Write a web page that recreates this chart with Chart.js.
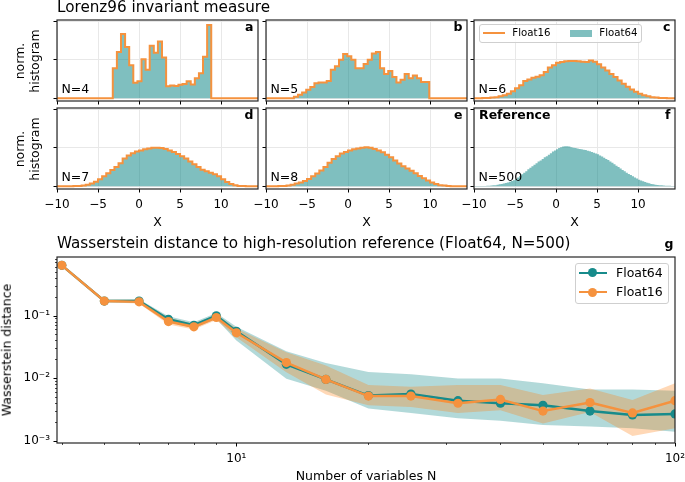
<!DOCTYPE html>
<html>
<head>
<meta charset="utf-8">
<script src="https://cdn.jsdelivr.net/npm/chart.js@4/dist/chart.umd.min.js"></script>
<style>
html,body{margin:0;padding:0;background:#fff;}
#root{position:relative;width:685px;height:482px;overflow:hidden;font-family:'DejaVu Sans',sans-serif;color:#000;background:#fff;}
#root canvas{position:absolute;}
.txt{position:absolute;white-space:nowrap;line-height:1;z-index:6;}
.legend{position:absolute;box-sizing:border-box;border:1px solid #cfcfcf;border-radius:3px;background:rgba(255,255,255,0.85);z-index:5;}
.lg{position:absolute;}
</style>
</head>
<body>
<div id="root"></div>
<script>
// ---------------- data ----------------
const panelLetters = ['a', 'b', 'c', 'd', 'e', 'f'];
const panelN = [4, 5, 6, 7, 8, 500];
const histStart = [-3.2, -6.6, -10, -10, -10, -10];
const histBinWidth = [0.5, 0.5, 0.5, 0.5, 0.5, 0.25];

const histN4 = [0.078,0.120,0.167,0.133,0.086,0.040,0.044,0.101,0.074,0.136,0.118,0.147,
                0.106,0.031,0.033,0.032,0.035,0.037,0.044,0.036,0.052,0.065,0.108,0.190];
const histN5 = [0.004,0.009,0.015,0.022,0.029,0.039,0.041,0.041,0.045,0.074,0.083,0.100,
                0.115,0.109,0.100,0.078,0.078,0.089,0.100,0.116,0.120,0.078,0.063,0.071,
                0.055,0.041,0.048,0.063,0.052,0.059,0.052,0.042,0.042];
const histN6 = [0,0,0.001,0.001,0.002,0.003,0.005,0.008,0.012,0.018,0.026,0.034,0.045,0.049,
                0.053,0.056,0.060,0.068,0.080,0.086,0.092,0.094,0.096,0.097,0.097,0.096,0.095,
                0.094,0.098,0.095,0.088,0.080,0.072,0.063,0.055,0.046,0.038,0.030,0.023,0.017,
                0.012,0.008,0.005,0.003,0.002,0.001,0.001,0,0];
const histN7 = [0,0,0,0,0.001,0.001,0.002,0.004,0.007,0.012,0.018,0.026,0.034,0.042,0.050,
                0.060,0.072,0.080,0.086,0.090,0.093,0.096,0.098,0.100,0.100,0.099,0.097,0.093,
                0.089,0.084,0.078,0.072,0.064,0.057,0.050,0.043,0.039,0.035,0.031,0.026,0.018,
                0.011,0.006,0.003,0.001,0.001,0,0,0];
const histN8 = [0,0,0,0.001,0.001,0.002,0.004,0.007,0.010,0.014,0.019,0.026,0.033,0.041,0.050,
                0.061,0.071,0.078,0.085,0.089,0.093,0.096,0.098,0.100,0.101,0.100,0.097,0.093,
                0.088,0.082,0.075,0.067,0.059,0.052,0.046,0.040,0.034,0.027,0.021,0.015,0.010,
                0.006,0.003,0.002,0.001,0,0,0,0];
const histN500 = [0.0005,0.0006,0.0007,0.0008, 0.001,0.0011,0.0013,0.0016, 0.002,0.0025,0.003,0.004,
                  0.005,0.006,0.007,0.0085, 0.010,0.012,0.014,0.016, 0.019,0.023,0.027,0.031,
                  0.035,0.039,0.044,0.048, 0.052,0.056,0.060,0.064, 0.067,0.071,0.075,0.078,
                  0.082,0.086,0.090,0.093, 0.096,0.099,0.101,0.103, 0.104,0.104,0.103,0.101,
                  0.100,0.099,0.098,0.097, 0.096,0.095,0.094,0.092, 0.091,0.089,0.087,0.085,
                  0.083,0.080,0.077,0.074, 0.071,0.068,0.064,0.061, 0.057,0.053,0.050,0.046,
                  0.042,0.039,0.035,0.032, 0.029,0.026,0.023,0.020, 0.017,0.015,0.013,0.011,
                  0.009,0.008,0.006,0.005, 0.004,0.0035,0.003,0.0025, 0.002,0.0017,0.0015,0.0012,
                  0.001,0.001];
const histValues = [histN4, histN5, histN6, histN7, histN8, histN500];
const histXTicks = [-10, -5, 0, 5, 10];
const histYTicks = [0, 0.1, 0.2];

const nVariables      = [4, 5, 6, 7, 8, 9, 10, 13, 16, 20, 25, 32, 40, 50, 64, 80, 100];
const wassFloat64     = [0.63,0.17,0.17,0.087,0.070,0.099,0.056,0.0167,0.0096,0.0053,0.0056,0.0044,0.0040,0.0037,0.0030,0.0026,0.0027];
const wassFloat16     = [0.63,0.17,0.165,0.080,0.066,0.093,0.053,0.0178,0.0096,0.0052,0.0052,0.0040,0.0046,0.0030,0.0041,0.0028,0.0044];
const wassFloat64Low  = [0.61,0.165,0.162,0.079,0.063,0.088,0.040,0.0098,0.0063,0.0033,0.0028,0.0023,0.0021,0.0018,0.0017,0.0016,0.0014];
const wassFloat64High = [0.65,0.178,0.182,0.097,0.078,0.110,0.066,0.027,0.0175,0.0126,0.0116,0.0099,0.0099,0.0083,0.0066,0.0066,0.0063];
const wassFloat16Low  = [0.61,0.163,0.155,0.072,0.060,0.085,0.045,0.0125,0.0055,0.0037,0.0035,0.0028,0.0031,0.0019,0.0029,0.0012,0.0016];
const wassFloat16High = [0.65,0.180,0.178,0.092,0.074,0.103,0.062,0.026,0.016,0.0078,0.0073,0.0078,0.0078,0.0054,0.0069,0.0045,0.0083];
const gXMajor = [10, 100];
const gXMinor = [4, 5, 6, 7, 8, 9, 20, 30, 40, 50, 60, 70, 80, 90];
const gYMajor = [0.001, 0.01, 0.1];
const gYMinor = [0.002,0.003,0.004,0.005,0.006,0.007,0.008,0.009,
                 0.02,0.03,0.04,0.05,0.06,0.07,0.08,0.09,
                 0.2,0.3,0.4,0.5,0.6,0.7,0.8];

// ---------------- styles ----------------
const ORANGE = '#f5923e';
const TEAL = '#178b8b';
const TEAL_FILL = 'rgba(0,128,128,0.5)';
const HX_MIN = -10, HX_MAX = 14.5, HY_MIN = -0.007, HY_MAX = 0.203;

Chart.defaults.font.family = "'DejaVu Sans', sans-serif";
Chart.defaults.font.size = 12;
Chart.defaults.color = '#000';

const root = document.getElementById('root');

function makeCanvas(left, top, w, h) {
  const c = document.createElement('canvas');
  c.width = w; c.height = h;
  c.style.left = left + 'px'; c.style.top = top + 'px';
  c.style.width = w + 'px'; c.style.height = h + 'px';
  root.appendChild(c);
  return c;
}
function addText(str, x, baseline, size, opt) {
  opt = opt || {};
  const d = document.createElement('div');
  d.className = 'txt';
  d.textContent = str;
  d.style.fontSize = size + 'px';
  if (opt.bold) d.style.fontWeight = 'bold';
  d.style.top = (baseline - 0.846 * size) + 'px';
  if (opt.align === 'right') d.style.right = (685 - x) + 'px';
  else if (opt.align === 'center') { d.style.left = x + 'px'; d.style.transform = 'translateX(-50%)'; }
  else d.style.left = x + 'px';
  root.appendChild(d);
  return d;
}
function addRotated(lines, cx, cy, size, lh) {
  const d = document.createElement('div');
  d.className = 'txt';
  d.style.fontSize = size + 'px';
  d.style.lineHeight = lh + 'px';
  d.style.textAlign = 'center';
  d.innerHTML = lines.join('<br>');
  d.style.left = cx + 'px'; d.style.top = cy + 'px';
  d.style.transform = 'translate(-50%,-50%) rotate(-90deg)';
  root.appendChild(d);
}
const minusFmt = v => (v < 0 ? '\u2212' + (-v) : String(v));
const SUP = {'-': '\u207B', '0': '\u2070', '1': '\u00B9', '2': '\u00B2', '3': '\u00B3'};
const supFmt = e => String(e).split('').map(c => SUP[c]).join('');

const framePlugin = {
  id: 'frame',
  afterDatasetsDraw(chart) {
    const { ctx, chartArea: a } = chart;
    ctx.save();
    ctx.strokeStyle = '#262626';
    ctx.lineWidth = 1.2;
    ctx.strokeRect(a.left, a.top, a.right - a.left, a.bottom - a.top);
    ctx.restore();
  }
};

// ---------------- histogram panels ----------------
const colLeft = [57, 266, 474], colW = 201;
const rowTop = [20, 108], rowH = 81;

function histPoints(k) {
  const s = histStart[k], w = histBinWidth[k], vals = histValues[k];
  const pts = [];
  if (s > HX_MIN) pts.push({ x: HX_MIN, y: 0 });
  vals.forEach((v, i) => pts.push({ x: s + i * w, y: v }));
  const end = s + vals.length * w;
  pts.push({ x: end, y: 0 });
  if (end < HX_MAX) pts.push({ x: HX_MAX, y: 0 });
  return pts;
}

for (let k = 0; k < 6; k++) {
  const row = k < 3 ? 0 : 1, col = k % 3;
  const L = colLeft[col], T = rowTop[row];
  const bottomH = row === 1 ? 34 : 10;
  const cv = makeCanvas(L - 20, T - 6, 20 + colW + 10, 6 + rowH + bottomH);
  const pts = histPoints(k);
  const datasets = [];
  if (k < 5) {
    datasets.push({ label: 'Float16', data: pts, stepped: true, borderColor: ORANGE, borderWidth: 2,
                    pointRadius: 0, fill: false });
  }
  datasets.push({ label: 'Float64', data: pts, stepped: true, borderColor: 'transparent', borderWidth: 0,
                  backgroundColor: TEAL_FILL, pointRadius: 0, fill: 'origin' });
  new Chart(cv, {
    type: 'line',
    data: { datasets },
    options: {
      responsive: false, animation: false, devicePixelRatio: 1,
      layout: { padding: { left: 0, top: 6, right: 10, bottom: 0 }, autoPadding: false },
      plugins: { legend: { display: false }, tooltip: { enabled: false } },
      scales: {
        x: {
          type: 'linear', min: HX_MIN, max: HX_MAX,
          afterBuildTicks: s => { s.ticks = histXTicks.map(v => ({ value: v })); },
          afterFit: s => { s.height = bottomH; s.paddingLeft = 0; s.paddingRight = 0; },
          grid: { color: '#e8e8e8', lineWidth: 1, tickColor: '#000', tickLength: 3.5, drawTicks: true, tickWidth: 1 },
          border: { display: false },
          ticks: { display: row === 1, padding: 5, autoSkip: false, maxRotation: 0, font: { size: 12 },
                   callback: v => minusFmt(v) }
        },
        y: {
          type: 'linear', min: HY_MIN, max: HY_MAX,
          afterBuildTicks: s => { s.ticks = histYTicks.map(v => ({ value: v })); },
          afterFit: s => { s.width = 20; s.paddingTop = 0; s.paddingBottom = 0; },
          grid: { color: '#e8e8e8', lineWidth: 1, tickColor: '#000', tickLength: 3.5, drawTicks: true, tickWidth: 1 },
          border: { display: false },
          ticks: { display: false }
        }
      }
    },
    plugins: [framePlugin]
  });
}

// ---------------- Wasserstein panel ----------------
const logTickPlugin = {
  id: 'logTicks',
  afterDraw(chart) {
    const { ctx, chartArea: a, scales } = chart;
    ctx.save();
    ctx.strokeStyle = '#000';
    scales.x.ticks.forEach(t => {
      const major = gXMajor.includes(t.value);
      const p = Math.round(scales.x.getPixelForValue(t.value)) + 0.5;
      ctx.lineWidth = major ? 1 : 0.7;
      ctx.beginPath(); ctx.moveTo(p, a.bottom); ctx.lineTo(p, a.bottom + (major ? 3.5 : 2)); ctx.stroke();
    });
    scales.y.ticks.forEach(t => {
      const major = gYMajor.includes(t.value);
      const p = Math.round(scales.y.getPixelForValue(t.value)) + 0.5;
      ctx.lineWidth = major ? 1 : 0.7;
      ctx.beginPath(); ctx.moveTo(a.left, p); ctx.lineTo(a.left - (major ? 3.5 : 2), p); ctx.stroke();
    });
    ctx.restore();
  }
};
const toPts = arr => nVariables.map((n, i) => ({ x: n, y: arr[i] }));
const gCanvas = makeCanvas(0, 230, 685, 252);
new Chart(gCanvas, {
  type: 'line',
  data: {
    datasets: [
      { label: 'Float16', data: toPts(wassFloat16), borderColor: ORANGE, backgroundColor: ORANGE,
        pointBackgroundColor: ORANGE, pointRadius: 4.6, pointBorderWidth: 0, borderWidth: 2.5, fill: false, order: 0 },
      { label: 'Float64', data: toPts(wassFloat64), borderColor: TEAL, backgroundColor: TEAL,
        pointBackgroundColor: TEAL, pointRadius: 4.6, pointBorderWidth: 0, borderWidth: 2.5, fill: false, order: 1 },
      { data: toPts(wassFloat16High), borderColor: 'transparent', borderWidth: 0, pointRadius: 0,
        fill: '+1', backgroundColor: 'rgba(255,127,14,0.3)', order: 2 },
      { data: toPts(wassFloat16Low), borderColor: 'transparent', borderWidth: 0, pointRadius: 0, fill: false, order: 3 },
      { data: toPts(wassFloat64High), borderColor: 'transparent', borderWidth: 0, pointRadius: 0,
        fill: '+1', backgroundColor: 'rgba(0,128,128,0.3)', order: 4 },
      { data: toPts(wassFloat64Low), borderColor: 'transparent', borderWidth: 0, pointRadius: 0, fill: false, order: 5 }
    ]
  },
  options: {
    responsive: false, animation: false, devicePixelRatio: 1,
    layout: { padding: { left: 0, top: 27, right: 10, bottom: 0 }, autoPadding: false },
    plugins: { legend: { display: false }, tooltip: { enabled: false } },
    scales: {
      x: {
        type: 'logarithmic', min: 3.9, max: 100, bounds: 'data',
        afterBuildTicks: s => { s.ticks = gXMinor.concat(gXMajor).sort((a, b) => a - b).map(v => ({ value: v })); },
        afterFit: s => { s.height = 39; s.paddingLeft = 0; s.paddingRight = 0; },
        grid: { display: false, drawTicks: false },
        border: { display: false },
        ticks: { autoSkip: false, maxRotation: 0, padding: 9, font: { size: 12 },
                 callback: v => (gXMajor.includes(v) ? '10' + supFmt(Math.round(Math.log10(v))) : '') }
      },
      y: {
        type: 'logarithmic', min: 0.00093, max: 0.856, bounds: 'data',
        afterBuildTicks: s => { s.ticks = gYMinor.concat(gYMajor).sort((a, b) => a - b).map(v => ({ value: v })); },
        afterFit: s => { s.width = 57; s.paddingTop = 0; s.paddingBottom = 0; },
        grid: { display: false, drawTicks: false },
        border: { display: false },
        ticks: { autoSkip: false, padding: 7, font: { size: 12 },
                 callback: v => (gYMajor.includes(v) ? '10' + supFmt(Math.round(Math.log10(v))) : '') }
      }
    }
  },
  plugins: [framePlugin, logTickPlugin]
});

// ---------------- texts ----------------
addText('Lorenz96 invariant measure', 57, 12.7, 15.2);
addText('Wasserstein distance to high-resolution reference (Float64, N=500)', 57, 249.3, 15.2);
addText('g', 673.5, 248.5, 12.5, { bold: true, align: 'right' });
for (let k = 0; k < 6; k++) {
  const row = k < 3 ? 0 : 1, col = k % 3;
  const L = colLeft[col], T = rowTop[row];
  addText(panelLetters[k], L + colW - 4.5, T + 11.2, 12.5, { bold: true, align: 'right' });
  addText('N=' + panelN[k], L + 4.5, T + rowH - 7.3, 12.5);
  if (row === 1) addText('X', L + colW / 2, 226.5, 12.5, { align: 'center' });
}
addText('Reference', 479, 119.2, 12.5, { bold: true });
addText('Number of variables N', 366, 480.5, 12.5, { align: 'center' });
addRotated(['norm.', 'histogram'], 28, 60.5, 12.5, 14.6);
addRotated(['norm.', 'histogram'], 28, 148.5, 12.5, 14.6);
addRotated(['Wasserstein distance'], 6.9, 350, 12.5, 12.5);

// ---------------- legends ----------------
function legendBox(l, t, w, h) {
  const b = document.createElement('div');
  b.className = 'legend';
  b.style.left = l + 'px'; b.style.top = t + 'px'; b.style.width = w + 'px'; b.style.height = h + 'px';
  root.appendChild(b);
}
function legendEl(l, t, w, h, bg, radius) {
  const e = document.createElement('div');
  e.className = 'lg';
  e.style.left = l + 'px'; e.style.top = t + 'px'; e.style.width = w + 'px'; e.style.height = h + 'px';
  e.style.background = bg; e.style.zIndex = 7;
  if (radius) e.style.borderRadius = radius;
  root.appendChild(e);
}
legendBox(479, 24, 163, 19);
legendEl(483, 32, 22, 2, ORANGE);
addText('Float16', 512.3, 36.8, 10.2);
legendEl(570, 29.6, 21.5, 7.3, TEAL_FILL);
addText('Float64', 599.3, 36.8, 10.2);

legendBox(575, 263, 94, 41);
legendEl(578.5, 271.5, 28, 2.5, TEAL);
legendEl(588, 268.2, 9.2, 9.2, TEAL, '50%');
addText('Float64', 616, 277.3, 12.5);
legendEl(578.5, 290.8, 28, 2.5, ORANGE);
legendEl(588, 287.5, 9.2, 9.2, ORANGE, '50%');
addText('Float16', 616, 296.6, 12.5);
</script>
</body>
</html>
